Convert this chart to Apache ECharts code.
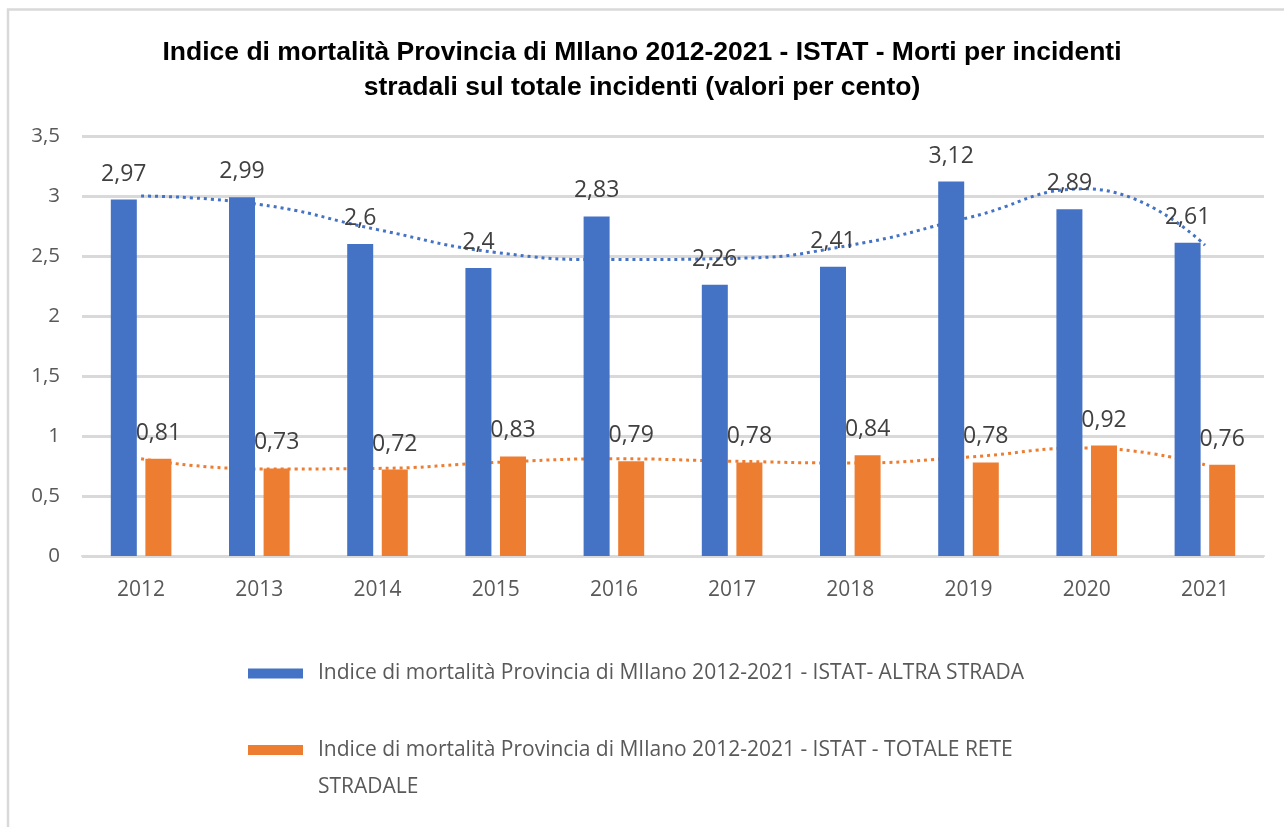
<!DOCTYPE html>
<html>
<head>
<meta charset="utf-8">
<script src="https://cdn.jsdelivr.net/npm/echarts@6/dist/echarts.min.js"></script>
<style>
html,body{margin:0;padding:0;background:#fff;}
#c{width:1284px;height:827px;}
</style>
</head>
<body>
<div id="c"></div>
<script>
const titleText = 'Indice di mortalità Provincia di MIlano 2012-2021 - ISTAT - Morti per incidenti\nstradali sul totale incidenti (valori per cento)';
const categories = ['2012','2013','2014','2015','2016','2017','2018','2019','2020','2021'];
const seriesAltraName = 'Indice di mortalità Provincia di MIlano 2012-2021 - ISTAT- ALTRA STRADA';
const seriesTotaleName = 'Indice di mortalità Provincia di MIlano 2012-2021 - ISTAT - TOTALE RETE STRADALE';
const altraStrada = [2.97, 2.99, 2.6, 2.4, 2.83, 2.26, 2.41, 3.12, 2.89, 2.61];
const totaleRete = [0.81, 0.73, 0.72, 0.83, 0.79, 0.78, 0.84, 0.78, 0.92, 0.76];
// trend lines
const altraTrend = [3.00, 2.93, 2.72, 2.53, 2.47, 2.48, 2.59, 2.82, 3.06, 2.59];
const totaleTrend = [0.81, 0.725, 0.73, 0.78, 0.81, 0.79, 0.775, 0.825, 0.90, 0.76];
const yTicks = [0, 0.5, 1, 1.5, 2, 2.5, 3, 3.5];

const BLUE = '#4472C4', ORANGE = '#ED7D31';
const fmt = v => String(v).replace('.', ',');
const labelFont = 'Open Sans';
const legendText = {fontFamily: labelFont, fontSize: 21, color: '#595959', lineHeight: 37, padding: [0, 0, 0, 10]};

const chart = echarts.init(document.getElementById('c'));
chart.setOption({
  animation: false,
  backgroundColor: '#fff',
  title: {
    text: titleText,
    left: 'center', top: 30,
    textStyle: {fontFamily: 'Liberation Sans', fontWeight: 'bold', fontSize: 26.5, color: '#000', lineHeight: 35}
  },
  graphic: [
    {type: 'polyline', shape: {points: [[8, 827], [8, 9.5], [1284, 9.5]]}, style: {stroke: '#d9d9d9', lineWidth: 2.5, fill: null}, silent: true}
  ],
  legend: [
    {
      left: 243, top: 650,
      itemWidth: 55, itemHeight: 10, icon: 'rect',
      data: [seriesAltraName],
      textStyle: legendText
    },
    {
      left: 243, top: 689.5,
      itemWidth: 55, itemHeight: 10, icon: 'rect',
      data: [seriesTotaleName],
      formatter: () => ' \nIndice di mortalità Provincia di MIlano 2012-2021 - ISTAT - TOTALE RETE\nSTRADALE',
      textStyle: legendText
    }
  ],
  grid: {left: 82, right: 20, top: 136, bottom: 271},
  xAxis: {
    type: 'category', data: categories,
    axisLine: {show: true, lineStyle: {color: '#d9d9d9', width: 2}},
    axisTick: {show: false},
    axisLabel: {fontFamily: labelFont, fontSize: 21, color: '#595959', margin: 24}
  },
  yAxis: {
    type: 'value', min: 0, max: 3.5, interval: 0.5,
    axisLine: {show: false}, axisTick: {show: false},
    splitLine: {lineStyle: {color: '#d9d9d9', width: 3}},
    axisLabel: {fontFamily: labelFont, fontSize: 20.5, color: '#595959', margin: 22,
      formatter: v => yTicks.includes(v) ? fmt(v) : ''}
  },
  series: [
    {name: 'trendAltra', type: 'line', data: altraTrend, smooth: 0.5, symbol: 'none', z: 1,
      lineStyle: {color: BLUE, width: 3, type: [3, 4]}, silent: true},
    {name: 'trendTotale', type: 'line', data: totaleTrend, smooth: 0.5, symbol: 'none', z: 1,
      lineStyle: {color: ORANGE, width: 3, type: [3, 4]}, silent: true},
    {name: seriesAltraName, type: 'bar', data: altraStrada, barWidth: 26, barGap: '33%', z: 3,
      itemStyle: {color: BLUE},
      label: {show: true, position: 'top', distance: 14, formatter: p => fmt(p.value),
        fontFamily: labelFont, fontSize: 23, color: '#404040'}},
    {name: seriesTotaleName, type: 'bar', data: totaleRete, barWidth: 26, z: 3,
      itemStyle: {color: ORANGE},
      label: {show: true, position: 'top', distance: 14, formatter: p => fmt(p.value),
        fontFamily: labelFont, fontSize: 23, color: '#404040'}}
  ]
});
</script>
</body>
</html>
